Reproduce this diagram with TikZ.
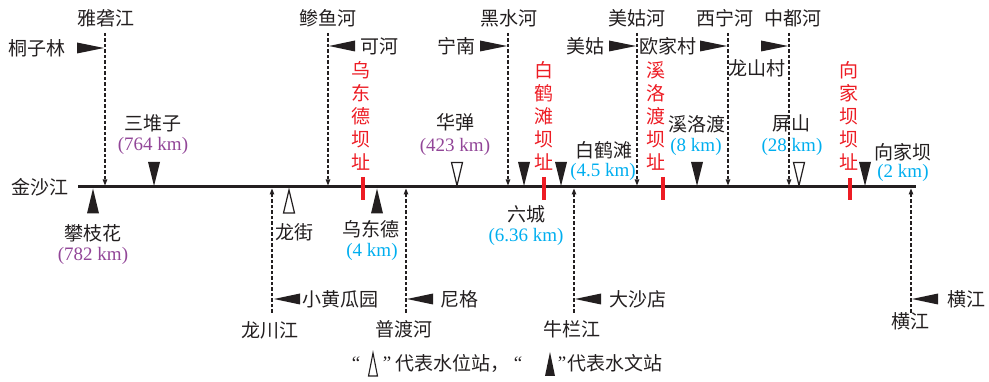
\documentclass[tikz,border=0pt]{standalone}
\usepackage{fontspec}
\setmainfont{Liberation Serif}
\newfontfamily\cjk{Noto Sans CJK SC}
\usetikzlibrary{arrows.meta}
\definecolor{txt}{RGB}{35,31,32}
\definecolor{damred}{RGB}{237,28,36}
\definecolor{kmpur}{RGB}{146,70,152}
\definecolor{kmcyan}{RGB}{0,174,239}
\tikzset{
  lab/.style={font=\cjk\fontsize{19}{23}\selectfont, text=txt, inner sep=0pt},
  num/.style={font=\fontsize{19}{23}\selectfont, inner sep=0pt},
  numpur/.style={num, text=kmpur},
  numcy/.style={num, text=kmcyan},
  trib/.style={draw=txt, line width=1.1pt, dash pattern=on 3.5pt off 2pt, -{Triangle[length=6pt,width=4.5pt]}},
  damlab/.style={font=\cjk\fontsize{19}{23}\selectfont, text=damred, align=center, inner sep=0pt},
  dambar/.style={draw=damred, line width=4pt},
  fdown/.pic={\fill[txt] (-6,-24) -- (0,0) -- (6,-24) -- cycle;},
  fup/.pic={\fill[txt] (-6,25) -- (0,0) -- (6,25) -- cycle;},
  hdown/.pic={\draw[txt, fill=white, line width=1.2pt] (-5.5,-23.5) -- (0,-0.5) -- (5.5,-23.5) -- cycle;},
  hup/.pic={\draw[txt, fill=white, line width=1.2pt] (-5.5,24.5) -- (0,1.5) -- (5.5,24.5) -- cycle;},
  tright/.pic={\fill[txt] (-27,-5.5) -- (0,0) -- (-27,5.5) -- cycle;},
  tleft/.pic={\fill[txt] (26,-5.5) -- (0,0) -- (26,5.5) -- cycle;},
}
\begin{document}
\begin{tikzpicture}[x=1pt,y=-1pt]
\useasboundingbox (0,0) rectangle (989,382);

% main river
\coordinate (m-w) at (78,187);
\coordinate (m-e) at (916,187);
\draw[txt, line width=3pt] (m-w) -- (m-e);
\node[lab] (n-jsj) at (40,187) {金沙江};

% ---- upper tributaries ----
\node[lab] (n-yl) at (106,18) {雅砻江};
\coordinate (t-yl) at (105,33); \coordinate (e-yl) at (105,185.5);
\draw[trib] (t-yl) -- (e-yl);
\pic at (104,48) {tright};
\node[lab] (n-tzl) at (37,48) {桐子林};

\node[lab] (n-sy) at (328,18) {鲹鱼河};
\coordinate (t-sy) at (328,33); \coordinate (e-sy) at (328,185.5);
\draw[trib] (t-sy) -- (e-sy);
\pic at (329,46) {tleft};
\node[lab] (n-kh) at (379,46) {可河};

\node[lab] (n-hs) at (509,18) {黑水河};
\coordinate (t-hs) at (508,33); \coordinate (e-hs) at (508,185.5);
\draw[trib] (t-hs) -- (e-hs);
\pic at (507,46) {tright};
\node[lab] (n-nn) at (456,46) {宁南};

\node[lab] (n-mg) at (637,18) {美姑河};
\coordinate (t-mg) at (637,33); \coordinate (e-mg) at (637,185.5);
\draw[trib] (t-mg) -- (e-mg);
\pic at (636,46) {tright};
\node[lab] (n-mgs) at (585,46) {美姑};
\node[lab] (n-ojc) at (668,46) {欧家村};
\pic at (727,46) {tright};

\node[lab] (n-xn) at (725,18) {西宁河};
\coordinate (t-xn) at (728,33); \coordinate (e-xn) at (728,185.5);
\draw[trib] (t-xn) -- (e-xn);
\node[lab] (n-lsc) at (757,68) {龙山村};

\node[lab] (n-zd) at (793,18) {中都河};
\coordinate (t-zd) at (789,33); \coordinate (e-zd) at (789,185.5);
\draw[trib] (t-zd) -- (e-zd);
\pic at (788,46) {tright};

% ---- lower tributaries ----
\coordinate (t-lc) at (272,313); \coordinate (e-lc) at (272,188.5);
\draw[trib] (t-lc) -- (e-lc);
\pic at (274,299) {tleft};
\node[lab] (n-xhg) at (340,299) {小黄瓜园};
\node[lab] (n-lc) at (270,330) {龙川江};

\coordinate (t-pd) at (406,313); \coordinate (e-pd) at (406,188.5);
\draw[trib] (t-pd) -- (e-pd);
\pic at (407,299) {tleft};
\node[lab] (n-ng) at (459,299) {尼格};
\node[lab] (n-pd) at (404,329) {普渡河};

\coordinate (t-nl) at (574,313); \coordinate (e-nl) at (574,188.5);
\draw[trib] (t-nl) -- (e-nl);
\pic at (575,299) {tleft};
\node[lab] (n-dsd) at (638,299) {大沙店};
\node[lab] (n-nl) at (572,329) {牛栏江};

\coordinate (t-hj) at (911,313); \coordinate (e-hj) at (911,188.5);
\draw[trib] (t-hj) -- (e-hj);
\pic at (912,299) {tleft};
\node[lab] (n-hjs) at (966,299) {横江};
\node[lab] (n-hj) at (910,321) {横江};

% ---- main stations ----
\pic at (93,188.5) {fup};
\node[lab] (n-pzh) at (93,233) {攀枝花};
\node[numpur] (k-pzh) at (93,256) {(782 km)};

\pic at (154,186) {fdown};
\node[lab] (n-sdz) at (153,123) {三堆子};
\node[numpur] (k-sdz) at (153,146) {(764 km)};

\pic at (289,188.5) {hup};
\node[lab] (n-lj) at (294,232) {龙街};

\draw[dambar] (363,177) -- (363,200);
\node[damlab] (d-wdd) at (361,116) {乌\\东\\德\\坝\\址};
\pic at (377,188.5) {fup};
\node[lab] (n-wdd) at (371,229) {乌东德};
\node[numcy] (k-wdd) at (372,252) {(4 km)};

\pic at (457,186) {hdown};
\node[lab] (n-hd) at (455,122) {华弹};
\node[numpur] (k-hd) at (455,147) {(423 km)};

\pic at (524,186) {fdown};
\node[lab] (n-lch) at (526,214) {六城};
\node[numcy] (k-lch) at (526,237) {(6.36 km)};

\draw[dambar] (544,177) -- (544,200);
\node[damlab] (d-bht) at (544,116) {白\\鹤\\滩\\坝\\址};
\pic at (561,186) {fdown};
\node[lab] (n-bht) at (604,150) {白鹤滩};
\node[numcy] (k-bht) at (603,172) {(4.5 km)};

\draw[dambar] (663,177) -- (663,200);
\node[damlab] (d-xld) at (656,116) {溪\\洛\\渡\\坝\\址};
\pic at (697,186) {fdown};
\node[lab] (n-xld) at (697,124) {溪洛渡};
\node[numcy] (k-xld) at (696,147) {(8 km)};

\pic at (799,186) {hdown};
\node[lab] (n-ps) at (791,123) {屏山};
\node[numcy] (k-ps) at (792,147) {(28 km)};

\draw[dambar] (850,178) -- (850,200);
\node[damlab] (d-xjb) at (849,116) {向\\家\\坝\\坝\\址};
\pic at (865,186) {fdown};
\node[lab] (n-xjb) at (903,152) {向家坝};
\node[numcy] (k-xjb) at (903,173) {(2 km)};

% ---- legend ----
\node[num, text=txt] (g-q1) at (356,363) {“};
\draw[txt, fill=white, line width=1.1pt] (368.5,376) -- (373,353) -- (377.5,376) -- cycle;
\node[num, text=txt] (g-q2) at (387,363) {”};
\node[lab, anchor=west] (g-t1) at (395,363) {代表水位站，};
\node[num, text=txt] (g-q3) at (518,363) {“};
\fill[txt] (545,376) -- (550,352) -- (555,376) -- cycle;
\node[num, text=txt] (g-q4) at (562,363) {”};
\node[lab, anchor=west] (g-t2) at (567,363) {代表水文站};
\end{tikzpicture}
\end{document}
